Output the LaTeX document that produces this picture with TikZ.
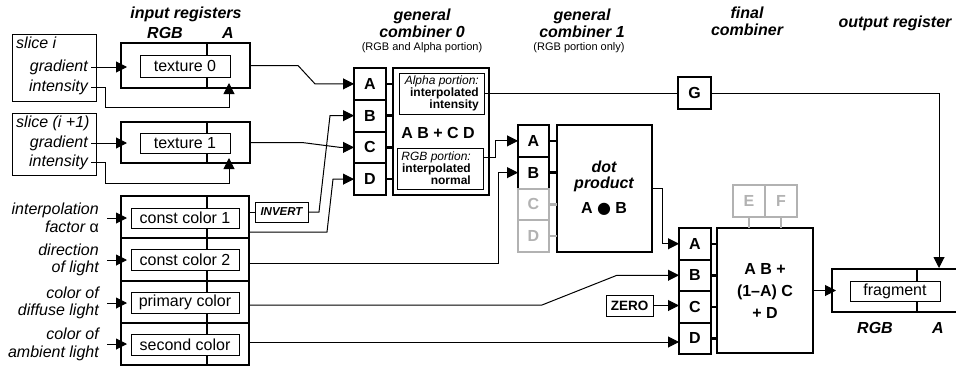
\documentclass[tikz,border=0pt]{standalone}
\usepackage{fontspec}
\setmainfont{Liberation Sans}
\newfontfamily\dejavu{DejaVu Sans}
\usetikzlibrary{arrows.meta}
\definecolor{lgray}{RGB}{178,178,178}
\tikzset{
 thk/.style={line width=2pt},
 thn/.style={line width=1pt},
 bx/.style={draw, rectangle, inner sep=0pt, outer sep=0pt, fill=white},
 lbl/.style={font=\fontsize{16}{17.5}\selectfont\itshape, inner sep=0pt, align=right},
 ttl/.style={font=\fontsize{16}{17}\selectfont\bfseries\itshape, inner sep=0pt, align=center},
 subt/.style={font=\fontsize{11}{13}\selectfont, inner sep=0pt},
 regtxt/.style={font=\fontsize{16}{18}\selectfont},
 ltr/.style={font=\fontsize{16}{18}\selectfont\bfseries},
 gry/.style={draw=lgray, text=lgray},
 wire/.style={draw, line width=1pt},
 arr/.style={-{Triangle[length=11pt,width=11pt]}},
 tickln/.style={draw, line width=2.5pt},
}
\begin{document}
\begin{tikzpicture}[x=1pt,y=-1pt]
\useasboundingbox (0,0) rectangle (956,367);
\fill[white] (0,0) rectangle (956,367);
\clip (0,0) rectangle (956,367);

% ---------- titles ----------
\node[ttl] (t_in) at (186,14) {input registers};
\node[ttl] (t_rgb) at (165,33) {RGB};
\node[ttl] (t_a) at (228,33) {A};
\node[ttl] (t_c0) at (422,23.5) {general\\combiner 0};
\node[subt] (t_c0s) at (422,48) {(RGB and Alpha portion)};
\node[ttl] (t_c1) at (582,23.5) {general\\combiner 1};
\node[subt] (t_c1s) at (579,48) {(RGB portion only)};
\node[ttl] (t_fin) at (747,21.5) {final\\combiner};
\node[ttl] (t_out) at (895,23) {output register};
\node[ttl] (t_rgb2) at (875,328) {RGB};
\node[ttl] (t_a2) at (938,328) {A};

% ---------- slice label boxes ----------
\node[bx,thn,minimum width=84pt,minimum height=67pt] (lab0) at (54,67.5) {};
\node[lbl,anchor=west] (s0) at (16,43) {slice i};
\node[lbl,anchor=east] (gr0) at (88,67) {gradient};
\node[lbl,anchor=east] (in0) at (88,87) {intensity};
\node[bx,thn,minimum width=84pt,minimum height=62pt] (lab1) at (54,144) {};
\node[lbl,anchor=west] (s1) at (16,123) {slice (i +1)};
\node[lbl,anchor=east] (gr1) at (88,143) {gradient};
\node[lbl,anchor=east] (in1) at (88,162) {intensity};

% ---------- texture registers ----------
\node[bx,thk,minimum width=129pt,minimum height=45pt] (reg0) at (185.5,65.5) {};
\draw[thk] (207,43) -- (207,88);
\node[bx,thn,regtxt,minimum width=90pt,minimum height=22pt] (tex0) at (185,66) {texture 0};
\node[bx,thk,minimum width=129pt,minimum height=41pt] (reg1) at (185.5,142.5) {};
\draw[thk] (207,122) -- (207,163);
\node[bx,thn,regtxt,minimum width=90pt,minimum height=20pt] (tex1) at (185,143.5) {texture 1};

% ---------- constant / colour registers ----------
\node[bx,thk,minimum width=128pt,minimum height=169pt] (bigreg) at (185,280.5) {};
\draw[thk] (121,238) -- (249,238);
\draw[thk] (121,281) -- (249,281);
\draw[thk] (121,323) -- (249,323);
\draw[thk] (207,196) -- (207,365);
\node[bx,thn,regtxt,minimum width=108pt,minimum height=20pt] (cc1) at (185,218) {const color 1};
\node[bx,thn,regtxt,minimum width=108pt,minimum height=21pt] (cc2) at (185,259.5) {const color 2};
\node[bx,thn,regtxt,minimum width=108pt,minimum height=21pt] (pc) at (185,302.5) {primary color};
\node[bx,thn,regtxt,minimum width=108pt,minimum height=21pt] (sc) at (185,344.5) {second color};

\node[lbl,anchor=east] (l_ip) at (99,218) {interpolation\\factor {\upshape α}};
\node[lbl,anchor=east] (l_dir) at (99,260) {direction\\of light};
\node[lbl,anchor=east] (l_dif) at (99,303) {color of\\diffuse light};
\node[lbl,anchor=east] (l_amb) at (99,344.5) {color of\\ambient light};

% ---------- INVERT ----------
\node[bx,thn,minimum width=53pt,minimum height=20pt,font=\fontsize{11.5}{13}\selectfont\bfseries\itshape] (inv) at (281.5,212) {INVERT};

% ---------- general combiner 0 ----------
\foreach \n/\y in {A/83.875,B/115.625,C/147.375,D/179.125}
  \node[bx,thk,ltr,minimum width=32pt,minimum height=31.75pt] (c0\n) at (370,\y) {\n};
\node[bx,thk,minimum width=96pt,minimum height=127pt] (c0) at (441,131.5) {};
\foreach \n in {A,B,C,D} \draw[tickln] (c0\n.east) -- (c0\n.east -| c0.west);
\node[bx,thn,minimum width=85pt,minimum height=41pt] (alpha) at (441.5,93.5) {};
\node[anchor=east,inner sep=0pt,align=right,font=\fontsize{12}{10.5}\selectfont] (alphatxt) at (479,93.5)
  {{\itshape Alpha portion:}\\\textbf{interpolated}\\\textbf{intensity}};
\node[ltr] (c0eq) at (438,133) {A B + C D};
\node[bx,thn,minimum width=86pt,minimum height=41pt] (rgbp) at (440,168.5) {};
\node[anchor=east,inner sep=0pt,align=right,font=\fontsize{12}{10.5}\selectfont] (rgbtxt) at (471,168)
  {{\itshape RGB portion:}\\\textbf{interpolated}\\\textbf{normal}};

% ---------- general combiner 1 ----------
\node[bx,thk,ltr,minimum width=31pt,minimum height=31.75pt] (c1A) at (533.5,140.875) {A};
\node[bx,thk,ltr,minimum width=31pt,minimum height=31.75pt] (c1B) at (533.5,172.625) {B};
\node[bx,thk,ltr,gry,minimum width=31pt,minimum height=31.75pt] (c1C) at (533.5,204.375) {C};
\node[bx,thk,ltr,gry,minimum width=31pt,minimum height=31.75pt] (c1D) at (533.5,236.125) {D};
\node[bx,thk,minimum width=95pt,minimum height=127pt] (c1) at (604.5,188.5) {};
\draw[tickln] (c1A.east) -- (c1A.east -| c1.west);
\draw[tickln] (c1B.east) -- (c1B.east -| c1.west);
\draw[tickln,lgray] (c1C.east) -- (c1C.east -| c1.west);
\draw[tickln,lgray] (c1D.east) -- (c1D.east -| c1.west);
\node[ttl,font=\fontsize{16}{16}\selectfont\bfseries\itshape] (dottxt) at (604,176) {dot\\product};
\node[ltr] (doteq) at (604,209) {A {\dejavu ●} B};

% ---------- final combiner ----------
\foreach \n/\y in {A/243.75,B/275.25,C/306.75,D/338.25}
  \node[bx,thk,ltr,minimum width=32pt,minimum height=31.5pt] (f\n) at (695,\y) {\n};
\node[bx,thk,minimum width=96pt,minimum height=125pt] (fin) at (765,290.5) {};
\foreach \n in {A,B,C,D} \draw[tickln] (f\n.east) -- (f\n.east -| fin.west);
\node[bx,thk,ltr,gry,minimum width=32pt,minimum height=32pt] (E) at (749,201) {E};
\node[bx,thk,ltr,gry,minimum width=32pt,minimum height=32pt] (F) at (781,201) {F};
\draw[lgray,line width=2pt] (E.south) -- (E.south |- fin.north);
\draw[lgray,line width=2pt] (F.south) -- (F.south |- fin.north);
\node[ltr,align=center,font=\fontsize{16}{22}\selectfont\bfseries] (fineq) at (765,291) {A B +\\(1–A) C\\+ D};

% ---------- G and ZERO ----------
\node[bx,thk,ltr,minimum width=33pt,minimum height=32pt] (G) at (694.5,93) {G};
\node[bx,thn,minimum width=47pt,minimum height=21pt,font=\fontsize{13.5}{15}\selectfont\bfseries] (zero) at (629.5,305.5) {ZERO};

% ---------- output register ----------
\node[bx,thk,minimum width=143pt,minimum height=43pt] (frag) at (903.5,290.5) {};
\draw[thk] (917,269) -- (917,312);
\node[bx,thn,regtxt,minimum width=90pt,minimum height=20pt] (fragtxt) at (895,291) {fragment};

% ---------- coordinates for free ends ----------
\coordinate (g0s) at (91,67);   \coordinate (g0e) at (127,67);
\coordinate (i0s) at (91,87);   \coordinate (i0e) at (229,83);
\coordinate (g1s) at (91,143);  \coordinate (g1e) at (127,143);
\coordinate (i1s) at (91,162);  \coordinate (i1e) at (229,158);
\coordinate (ips) at (107,218); \coordinate (ipe) at (127,218);
\coordinate (dis) at (107,260); \coordinate (die) at (127,260);
\coordinate (dfs) at (107,303); \coordinate (dfe) at (127,303);
\coordinate (ams) at (107,344); \coordinate (ame) at (127,344);
\coordinate (cc1o) at (249,232);
\coordinate (cc2o) at (249,263);
\coordinate (pco) at (249,305);
\coordinate (sco) at (249,342);
\coordinate (rgbo) at (483,157);
\coordinate (fragA) at (939,268);
\coordinate (fragL) at (836,290.5);

% ---------- connectors ----------
\draw[wire,arr] (g0s) -- (g0e);
\draw[wire,arr] (i0s) -- (105,87) -- (105,107) -- (229,107) -- (i0e);
\draw[wire,arr] (g1s) -- (g1e);
\draw[wire,arr] (i1s) -- (105,162) -- (105,183) -- (229,183) -- (i1e);
\draw[wire,arr] (ips) -- (ipe);
\draw[wire,arr] (dis) -- (die);
\draw[wire,arr] (dfs) -- (dfe);
\draw[wire,arr] (ams) -- (ame);

\draw[wire,arr] (reg0.east) -- (298,65.5) -- (315,83.875) -- (c0A.west);
\draw[wire,arr] (reg1.east) -- (302,142.5) -- (340,147.375) -- (c0C.west);
\draw[wire] (bigreg.east |- inv.west) -- (inv.west);
\draw[wire,arr] (inv.east) -- (319,212) -- (330,115.625) -- (c0B.west);
\draw[wire,arr] (cc1o) -- (327,232) -- (333,179.125) -- (c0D.west);
\draw[wire,arr] (cc2o) -- (498,263) -- (498,172.625) -- (c1B.west);
\draw[wire,arr] (rgbo) -- (495,157) -- (495,140.875) -- (c1A.west);
\draw[wire] (alpha.east |- G.west) -- (G.west);
\draw[wire,arr] (G.east) -- (939,93) -- (fragA);
\draw[wire,arr] (c1.east) -- (662,188.5) -- (662,243.75) -- (fA.west);
\draw[wire,arr] (pco) -- (542,305) -- (617,275.25) -- (fB.west);
\draw[wire,arr] (zero.east) -- (zero.east -| fC.west);
\draw[wire,arr] (sco) -- (sco -| fD.west);
\draw[wire,arr] (fin.east) -- (fragL);
\end{tikzpicture}
\end{document}
